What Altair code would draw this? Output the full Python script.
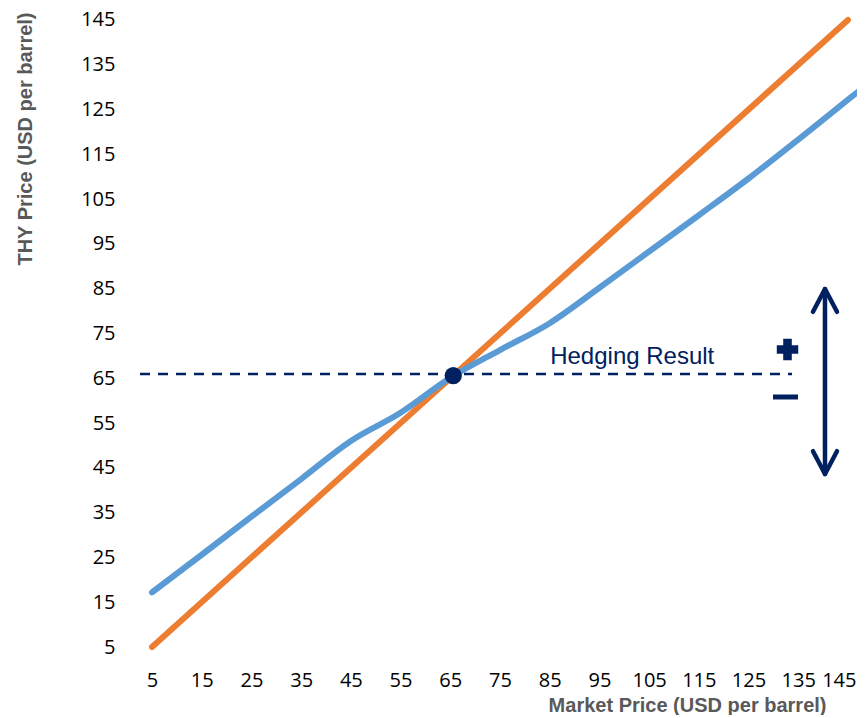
import altair as alt
import pandas as pd

# ---- data ----
market_ticks = [5, 15, 25, 35, 45, 55, 65, 75, 85, 95, 105, 115, 125, 135, 145]
thy_ticks = [5, 15, 25, 35, 45, 55, 65, 75, 85, 95, 105, 115, 125, 135, 145]

# orange: unhedged market price line
market_x = [5, 145]
market_y = [5, 145]

# blue: THY price with hedging
thy_x = [5, 15, 25, 35, 45, 55, 65, 75, 85, 95, 105, 115, 125, 135, 145, 150]
thy_y = [17.2, 25.6, 34.1, 42.5, 51.0, 57.3, 65.1, 71.3, 77.3, 85.2, 93.3, 101.4, 109.6, 118.3, 127.2, 131.6]

# annotations (data coordinates)
ref_line_x = [2.586, 133.75]
ref_line_y = [65.95]
pivot_x = [65.6]
pivot_y = [65.6]
label_text = ["Hedging Result"]
label_x = [85.1]
label_y = [68.2]
plus_x = [132.84]
plus_y = [71.42]
minus_x = [132.44]
minus_y = [60.82]
arrow_x = [140.38]
arrow_top = [84.93]
arrow_bottom = [43.62]

NAVY = "#002060"
ORANGE = "#ED7D31"
BLUE = "#5B9BD5"

xs = alt.Scale(domain=[2.586, 146.82], nice=False, zero=False)
ys = alt.Scale(domain=[3.214, 147.67], nice=False, zero=False)

last_tick = "datum.value == 145"

x_axis = alt.Axis(
    values=market_ticks, title="Market Price (USD per barrel)",
    labelFont="Open Sans", labelFontSize=20, labelColor="#000000",
    labelPadding=15, labelAngle=0, labelFlush=False, labelOverlap=False,
    labelAlign={"condition": {"test": last_tick, "value": "right"}, "value": "center"},
    labelOffset={"condition": {"test": last_tick, "value": 8}, "value": 0},
    titleFont="Liberation Sans", titleFontSize=20, titleFontWeight="bold",
    titleColor="#595959", titleAnchor="end", titleAlign="right",
    titleX=686, titleY=56, titleBaseline="alphabetic",
    domain=False, ticks=False, tickSize=0, grid=False,
)
y_axis = alt.Axis(
    values=thy_ticks, title="THY Price (USD per barrel)",
    labelFont="Open Sans", labelFontSize=20, labelColor="#000000",
    labelPadding=25, labelFlush=False, labelOverlap=False,
    titleFont="Liberation Sans", titleFontSize=20, titleFontWeight="bold",
    titleColor="#595959", titleAnchor="end", titleAlign="right", titleAngle=270,
    titleX=-109, titleY=4, titleBaseline="alphabetic",
    domain=False, ticks=False, tickSize=0, grid=False,
)


def X(field="x:Q"):
    return alt.X(field, scale=xs, axis=x_axis)


def Y(field="y:Q"):
    return alt.Y(field, scale=ys, axis=y_axis)


market_df = pd.DataFrame({"x": market_x, "y": market_y})
thy_df = pd.DataFrame({"x": thy_x, "y": thy_y})

orange = alt.Chart(market_df).mark_line(
    color=ORANGE, strokeWidth=6, strokeCap="round", clip=True
).encode(x=X(), y=Y())

blue = alt.Chart(thy_df).mark_line(
    color=BLUE, strokeWidth=6, strokeCap="round", interpolate="monotone", clip=True
).encode(x=X(), y=Y())

ref_df = pd.DataFrame({"x": [ref_line_x[0]], "x2": [ref_line_x[1]], "y": ref_line_y})
dashed = alt.Chart(ref_df).mark_rule(
    color=NAVY, strokeWidth=2.6, strokeDash=[10, 8]
).encode(x=X(), x2="x2:Q", y=Y())

pivot = alt.Chart(pd.DataFrame({"x": pivot_x, "y": pivot_y})).mark_point(
    shape="circle", filled=True, color=NAVY, size=300, opacity=1
).encode(x=X(), y=Y())

label = alt.Chart(pd.DataFrame({"x": label_x, "y": label_y, "t": label_text})).mark_text(
    font="Liberation Sans", fontSize=24, color=NAVY, align="left", baseline="alphabetic"
).encode(x=X(), y=Y(), text="t:N")

plus = alt.Chart(pd.DataFrame({"x": plus_x, "y": plus_y})).mark_point(
    shape="cross", filled=True, color=NAVY, size=460, opacity=1
).encode(x=X(), y=Y())

minus = alt.Chart(pd.DataFrame({"x": minus_x, "y": minus_y})).mark_point(
    shape="M-1,-0.2L1,-0.2L1,0.2L-1,0.2Z", filled=True, color=NAVY, size=625, opacity=1
).encode(x=X(), y=Y())

shaft_df = pd.DataFrame({"x": arrow_x, "y": arrow_bottom, "y2": arrow_top})
shaft = alt.Chart(shaft_df).mark_rule(
    color=NAVY, strokeWidth=4.5, strokeCap="round"
).encode(x=X(), y=Y(), y2="y2:Q")

head_up = alt.Chart(pd.DataFrame({"x": arrow_x, "y": arrow_top})).mark_point(
    shape="M-1,1.9L0,0L1,1.9", filled=False, color=NAVY, size=576, opacity=1,
    strokeWidth=4.5, strokeCap="round", strokeJoin="round"
).encode(x=X(), y=Y())

head_down = alt.Chart(pd.DataFrame({"x": arrow_x, "y": arrow_bottom})).mark_point(
    shape="M-1,-1.9L0,0L1,-1.9", filled=False, color=NAVY, size=576, opacity=1,
    strokeWidth=4.5, strokeCap="round", strokeJoin="round"
).encode(x=X(), y=Y())

chart = alt.layer(
    orange, blue, dashed, pivot, label, plus, minus, shaft, head_up, head_down
).properties(
    width=717, height=647,
    autosize=alt.AutoSizeParams(type="none"),
    padding={"left": 132, "top": 0, "right": 0, "bottom": 60},
    background="#ffffff",
).configure_view(stroke=None)

chart.save("out.html", embed_options={"renderer": "svg", "actions": False})
